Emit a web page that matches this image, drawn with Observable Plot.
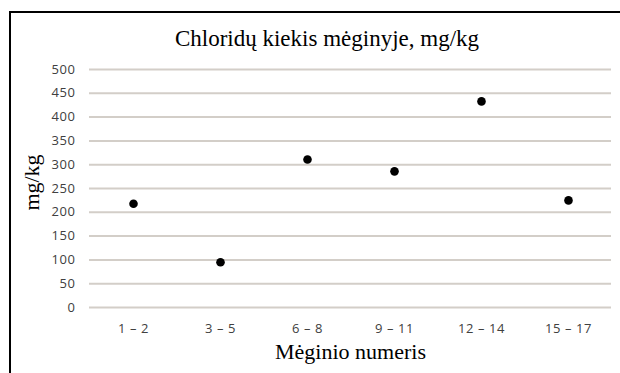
<!DOCTYPE html>
<html>
<head>
<meta charset="utf-8">
<script src="https://cdn.jsdelivr.net/npm/d3@7"></script>
<script src="https://cdn.jsdelivr.net/npm/@observablehq/plot@0.6"></script>
<style>
  html, body { margin: 0; padding: 0; background: #fff; }
  #wrap { position: relative; width: 620px; height: 373px; overflow: hidden; }
  #frame { position: absolute; left: 9px; top: 11px; width: 700px; height: 400px;
           border-left: 2px solid #000; border-top: 2px solid #000; pointer-events: none; }
  #title { height: 28px; padding-top: 27px; padding-left: 34px; width: 586px; text-align: center;
           font-family: "Liberation Serif", "Times New Roman", serif; font-size: 23px; line-height: 23px; color: #000; }
  svg { display: block; }
  #chart g[aria-label="x-axis tick label"] text,
  #chart g[aria-label="y-axis tick label"] text { letter-spacing: 0.6px; }
</style>
</head>
<body>
<div id="wrap">
  <div id="title">Chloridų kiekis mėginyje, mg/kg</div>
  <div id="chart"></div>
  <div id="frame"></div>
</div>
<script>
const categories = ["1 – 2", "3 – 5", "6 – 8", "9 – 11", "12 – 14", "15 – 17"];
const values = [218, 95, 311, 286, 433, 225];
const yTicks = [0, 50, 100, 150, 200, 250, 300, 350, 400, 450, 500];
const yLabel = "mg/kg";
const xLabel = "Mėginio numeris";

const data = categories.map((c, i) => ({category: c, value: values[i]}));

const chart = Plot.plot({
  width: 620,
  height: 318,
  marginTop: 14,
  marginBottom: 66,
  marginLeft: 89,
  marginRight: 9,
  style: {fontFamily: "'Open Sans', sans-serif", fontSize: "13px", color: "#404040", background: "transparent"},
  x: {type: "point", domain: categories, padding: 0.5, label: null},
  y: {domain: [0, 500], label: null},
  marks: [
    Plot.ruleY(yTicks, {stroke: "#d3cec8", strokeWidth: 2}),
    Plot.axisY({ticks: yTicks, tickSize: 0, tickPadding: 14, label: null, fill: "#404040", fontSize: 13}),
    Plot.axisX({tickSize: 0, tickPadding: 16, label: null, fill: "#404040", fontSize: 13}),
    Plot.dot(data, {x: "category", y: "value", r: 4.3, fill: "#000", stroke: "none"}),
    Plot.text([xLabel], {frameAnchor: "bottom", dy: 51, fontSize: 22, fontFamily: "'Liberation Serif', serif", fill: "#000", textAnchor: "middle"}),
    Plot.text([yLabel], {frameAnchor: "left", dx: -58, dy: -6, rotate: -90, fontSize: 22, fontFamily: "'Liberation Serif', serif", fill: "#000", textAnchor: "middle"})
  ]
});
document.getElementById("chart").appendChild(chart);
</script>
</body>
</html>
